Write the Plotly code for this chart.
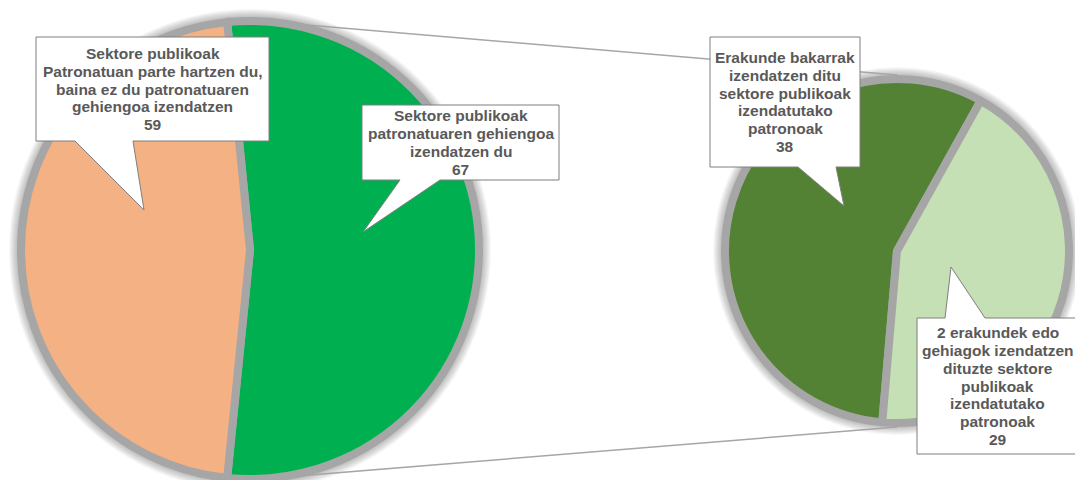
import math
import plotly.graph_objects as go

W, H = 1075, 480

# main pie
main_labels = [
    "Sektore publikoak<br>patronatuaren gehiengoa<br>izendatzen du",
    "Sektore publikoak<br>Patronatuan parte hartzen du,<br>baina ez du patronatuaren<br>gehiengoa izendatzen",
]
main_values = [67, 59]
main_colors = ["#00B050", "#F4B183"]

# breakdown of the first slice
detail_labels = [
    "Erakunde bakarrak<br>izendatzen ditu<br>sektore publikoak<br>izendatutako<br>patronoak",
    "2 erakundek edo<br>gehiagok izendatzen<br>dituzte sektore<br>publikoak<br>izendatutako<br>patronoak",
]
detail_values = [38, 29]
detail_colors = ["#548235", "#C5E0B4"]

EDGE = "#A6A6A6"
TEXT = "#595959"
LINE_W = 8

# pie geometry in pixels (centre x, centre y, radius)
left = (250, 250, 229)
right = (897, 251, 172)


def domain(cx, cy, r):
    return dict(x=[(cx - r) / W, (cx + r) / W], y=[(H - cy - r) / H, (H - cy + r) / H])


# first slice centred on 3 o'clock, second pie's light slice centred a bit lower
span_main = 360 * main_values[0] / sum(main_values)
rot_main = 90 - span_main / 2
span_light = 360 * detail_values[1] / sum(detail_values)
rot_detail = 107 + span_light / 2

fig = go.Figure()
fig.add_trace(go.Scatter(x=[], y=[], showlegend=False, hoverinfo="skip"))
fig.add_trace(go.Pie(
    labels=main_labels, values=main_values, sort=False, direction="clockwise",
    rotation=rot_main, domain=domain(*left), textinfo="none", hoverinfo="label+value",
    marker=dict(colors=main_colors, line=dict(color=EDGE, width=LINE_W)),
    showlegend=False,
))
fig.add_trace(go.Pie(
    labels=detail_labels, values=detail_values, sort=False, direction="clockwise",
    rotation=rot_detail, domain=domain(*right), textinfo="none", hoverinfo="label+value",
    marker=dict(colors=detail_colors, line=dict(color=EDGE, width=LINE_W)),
    showlegend=False,
))

shapes = []
# soft glow around both pies
for cx, cy, r in (left, right):
    ro = r + LINE_W / 2
    for k in range(1, 9):
        shapes.append(dict(type="circle", xref="x", yref="y", layer="below",
                           x0=cx - ro - k, x1=cx + ro + k, y0=cy - ro - k, y1=cy + ro + k,
                           fillcolor="rgba(0,0,0,0.03)", line=dict(width=0)))

# connector lines from the split slice to the second pie
ro_l = left[2] + LINE_W / 2
ro_r = right[2] + LINE_W / 2
for ang, sign in ((rot_main, -1), (rot_main + span_main, 1)):
    a = math.radians(ang)
    x0 = left[0] + ro_l * math.sin(a)
    y0 = left[1] - ro_l * math.cos(a)
    shapes.append(dict(type="line", xref="x", yref="y", layer="below",
                       x0=x0, y0=y0, x1=right[0], y1=right[1] + sign * ro_r,
                       line=dict(color=EDGE, width=1.5)))

# callouts: box (x0, y0, x1, y1), wedge base (xa, xb), tip, wedge side
callouts = [
    ((36, 37, 269, 141), (75, 133), (144, 210), "bottom", main_labels[1], main_values[1]),
    ((362, 105, 559, 180), (400, 440), (363, 232), "bottom", main_labels[0], main_values[0]),
    ((710, 37, 860, 167), (798, 836), (844, 206), "bottom", detail_labels[0], detail_values[0]),
    ((917, 318, 1078, 454), (945, 985), (951, 267), "top", detail_labels[1], detail_values[1]),
]

annotations = []
LH = 17.8
for (x0, y0, x1, y1), (xa, xb), (tx, ty), side, label, val in callouts:
    if side == "bottom":
        pts = [(x0, y0), (x1, y0), (x1, y1), (xb, y1), (tx, ty), (xa, y1), (x0, y1)]
    else:
        pts = [(x0, y0), (xa, y0), (tx, ty), (xb, y0), (x1, y0), (x1, y1), (x0, y1)]
    path = "M " + " L ".join("%g,%g" % p for p in pts) + " Z"
    shapes.append(dict(type="path", xref="x", yref="y", layer="above", path=path,
                       fillcolor="white", line=dict(color="#7F7F7F", width=1)))
    lines = label.split("<br>") + [str(val)]
    cx = (x0 + x1) / 2
    cy = (y0 + y1) / 2
    for i, t in enumerate(lines):
        annotations.append(dict(
            x=cx, y=cy + (i - (len(lines) - 1) / 2) * LH, xref="x", yref="y",
            text="<b>%s</b>" % t, showarrow=False, xanchor="center", yanchor="middle",
            font=dict(family="Liberation Sans, Arial, sans-serif", size=15.5, color=TEXT),
        ))

fig.update_layout(
    width=W, height=H,
    margin=dict(l=0, r=0, t=0, b=0),
    paper_bgcolor="white", plot_bgcolor="white",
    xaxis=dict(range=[0, W], domain=[0, 1], visible=False, fixedrange=True),
    yaxis=dict(range=[H, 0], domain=[0, 1], visible=False, fixedrange=True),
    shapes=shapes, annotations=annotations,
    showlegend=False,
)

fig.write_html(
    "out.html",
    config={"displayModeBar": False},
    post_script="document.body.style.margin='0';document.body.style.overflow='hidden';",
)
